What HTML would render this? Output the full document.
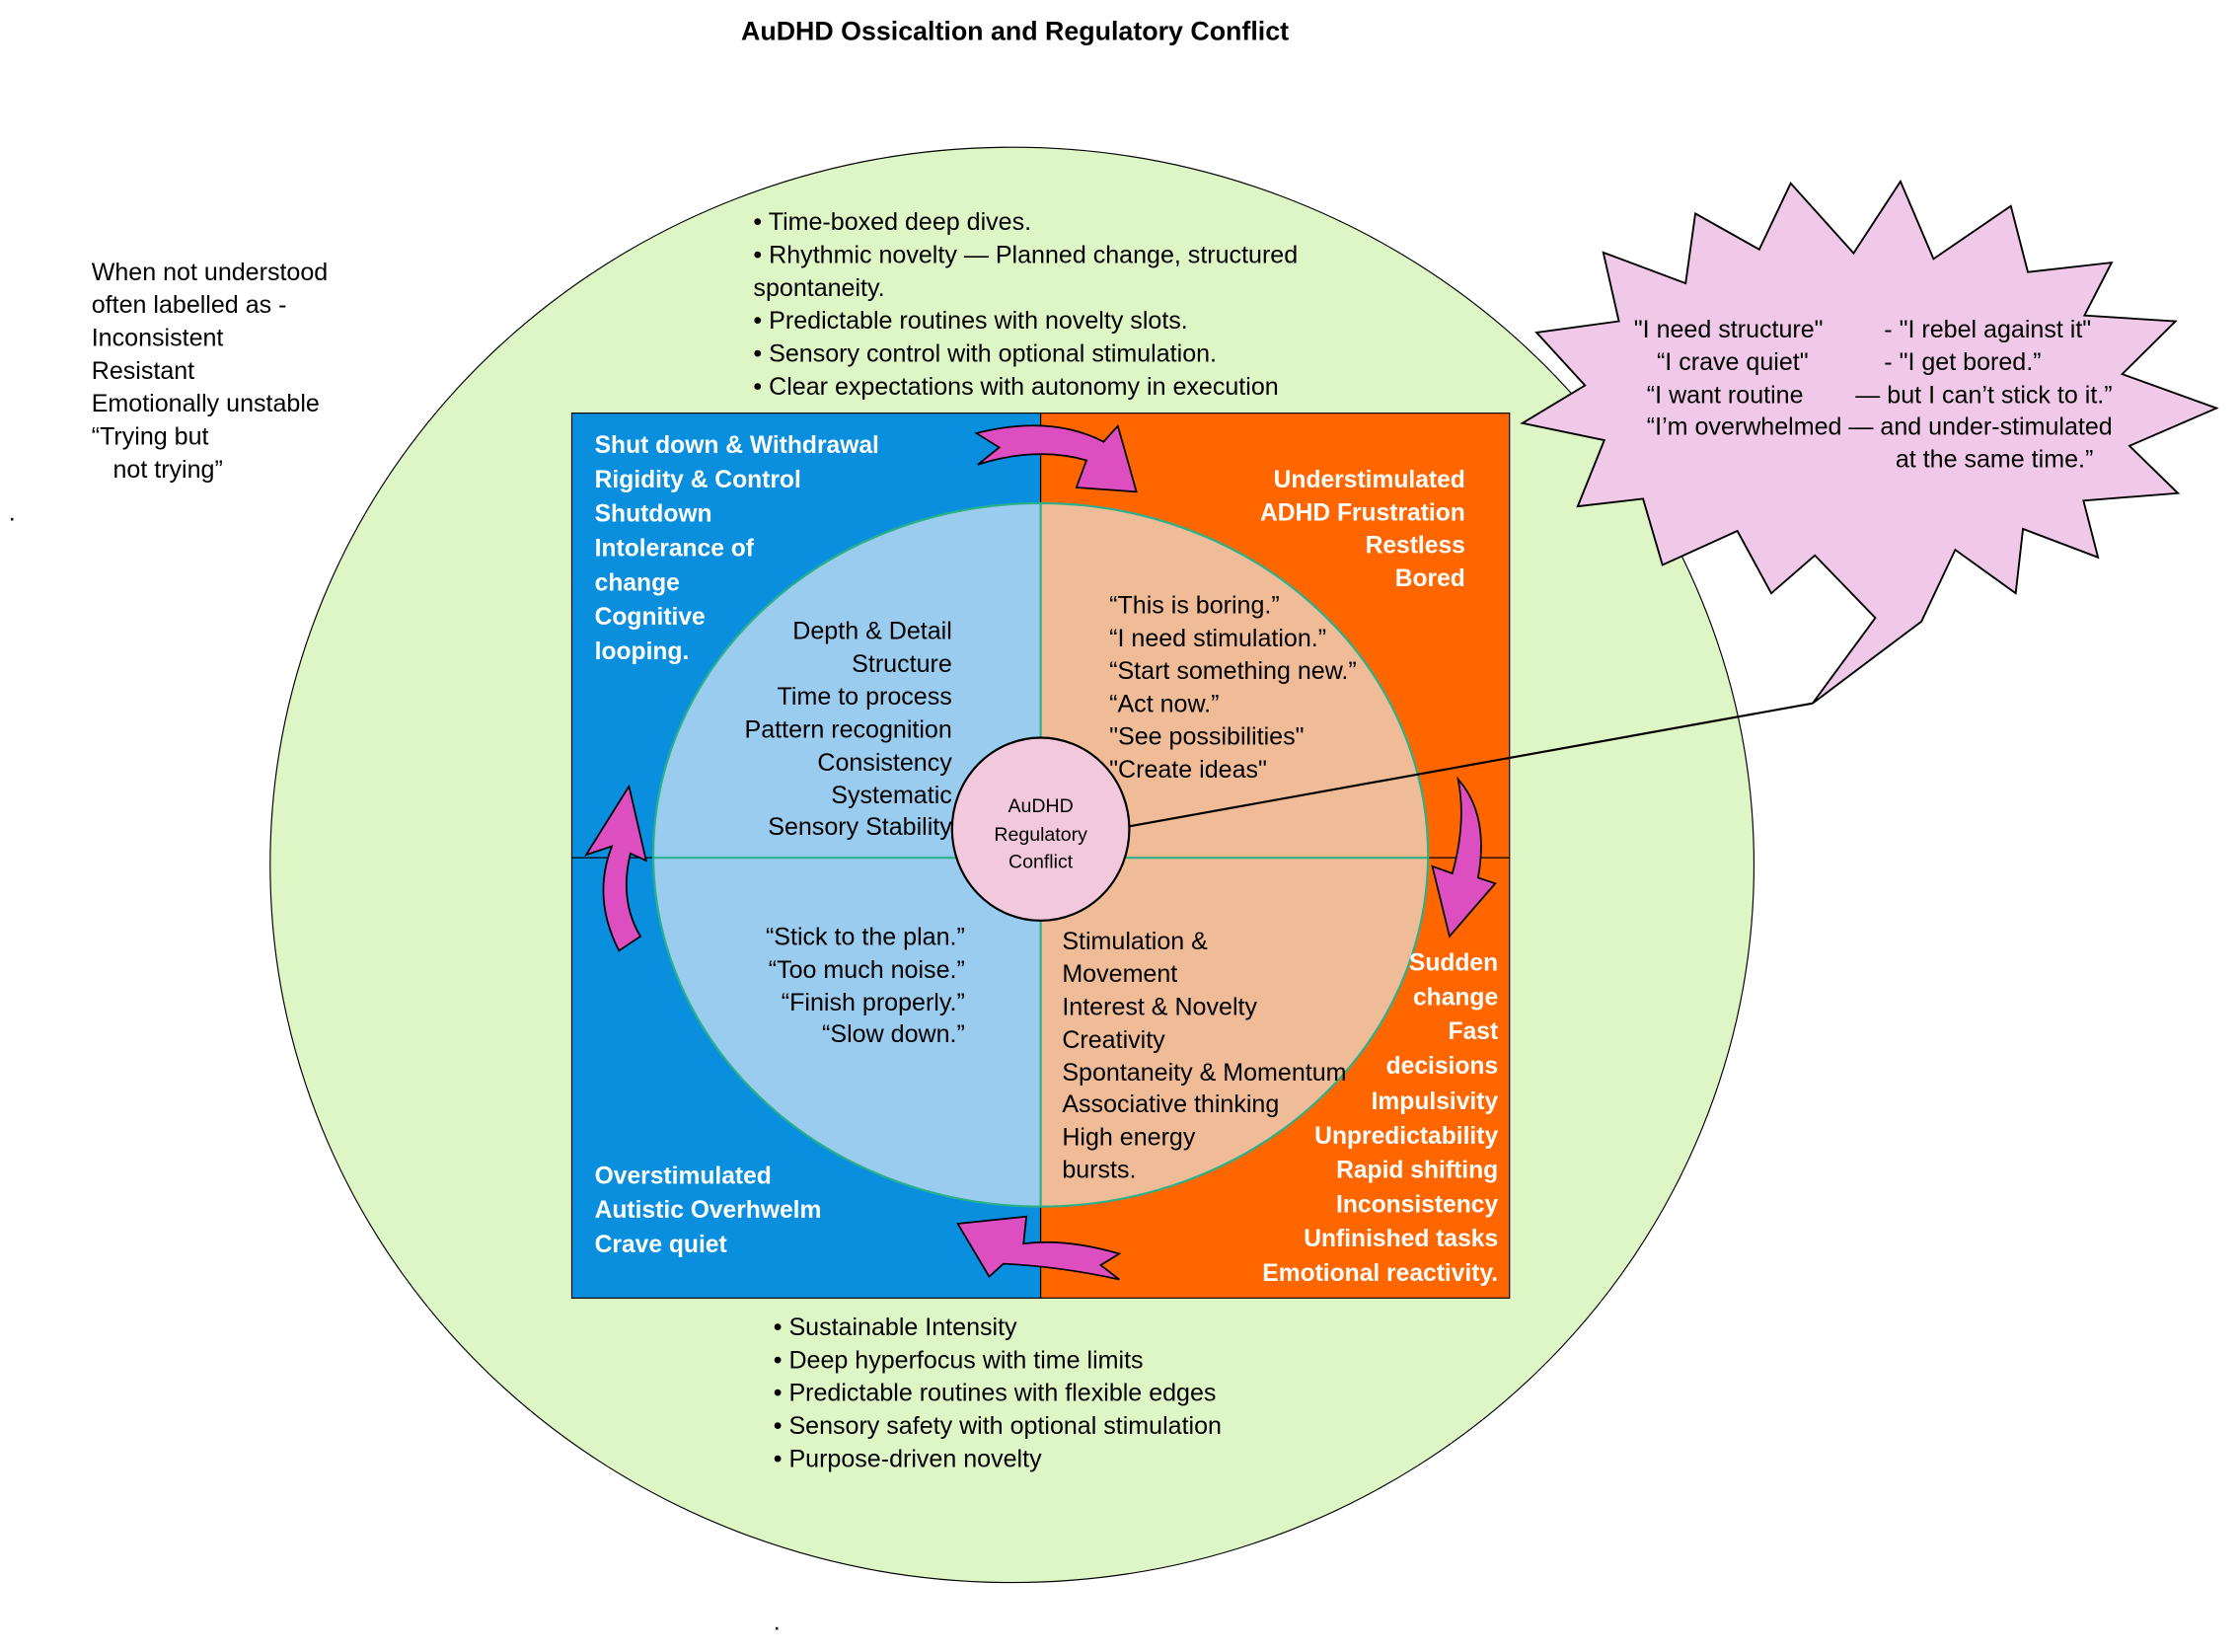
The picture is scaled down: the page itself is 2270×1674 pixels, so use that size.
<!DOCTYPE html>
<html><head><meta charset="utf-8"><style>
html,body{margin:0;padding:0;background:#fff;}
svg{display:block;}
text{font-family:"Liberation Sans",sans-serif;font-size:16px;fill:#000;}
.w text{fill:#fff;font-weight:bold;font-size:17px;}
.b text{font-size:17.3px;}
</style></head><body>
<svg width="2270" height="1674" viewBox="0 0 1567 1155.6" xmlns="http://www.w3.org/2000/svg">
<rect width="1567" height="1156" fill="#fff"/>
<text x="710" y="28" text-anchor="middle" style="font-weight:bold;font-size:18.5px">AuDHD Ossicaltion and Regulatory Conflict</text>
<ellipse cx="708" cy="605" rx="519" ry="502" fill="#def5c6" stroke="#000" stroke-width="0.8"/>
<rect x="400" y="289" width="328" height="311" fill="#0a8fdf" stroke="#000" stroke-width="0.8"/>
<rect x="400" y="600" width="328" height="308" fill="#0a8fdf" stroke="#000" stroke-width="0.8"/>
<rect x="728" y="289" width="328" height="311" fill="#ff6600" stroke="#000" stroke-width="0.8"/>
<rect x="728" y="600" width="328" height="308" fill="#ff6600" stroke="#000" stroke-width="0.8"/>
<path d="M728,598 L457,598 A271,246 0 0 1 728,352 Z" fill="#99ccee"/>
<path d="M728,598 L457,598 A271,246 0 0 0 728,844 Z" fill="#99ccee"/>
<path d="M728,598 L999,598 A271,246 0 0 0 728,352 Z" fill="#f0bc98"/>
<path d="M728,598 L999,598 A271,246 0 0 1 728,844 Z" fill="#f0bc98"/>
<ellipse cx="728" cy="598" rx="271" ry="246" fill="none" stroke="#2ab08a" stroke-width="1.5"/>
<line x1="457" y1="600" x2="999" y2="600" stroke="#2ab08a" stroke-width="1.5"/>
<line x1="728" y1="352" x2="728" y2="844" stroke="#2ab08a" stroke-width="1.5"/>
<line x1="790" y1="578" x2="1268" y2="492" stroke="#000" stroke-width="1.5"/>
<ellipse cx="728" cy="580" rx="62" ry="64" fill="#f2c8dc" stroke="#000" stroke-width="1.5"/>
<text x="728" y="568" text-anchor="middle" style="font-size:13.5px">AuDHD</text>
<text x="728" y="588" text-anchor="middle" style="font-size:13.5px">Regulatory</text>
<text x="728" y="607" text-anchor="middle" style="font-size:13.5px">Conflict</text>
<g fill="#dd4fc0" stroke="#000" stroke-width="1.2">
<path d="M683,303 L699,313 L684,325 Q725,312 760,322 L753,341 L795,344 L782,298 L772,309 Q735,290 683,303 Z"/>
<path d="M1020,545 Q1042,570 1034,614 L1046,618 L1014,655 L1002,606 L1016,611 Q1026,575 1020,545 Z"/>
<path d="M783,877 Q745,866 716,870 L718,851 L670,856 L692,893 L702,884 Q742,886 783,895 L770,885 Z"/>
<path d="M433,665 Q414,628 428,592 L410,598 L440,550 L452,602 L441,597 Q433,630 448,655 Z"/>
</g>
<polygon fill="#f0c8e8" stroke="#000" stroke-width="1.3" points="1252.7,128.2 1296.7,177.1 1329.5,126.9 1352.6,181.1 1406.7,144.1 1418.6,190.3 1477.2,183.7 1458.2,220.7 1521.9,224.7 1484.6,261.7 1550.6,285.5 1489.7,311.9 1523.6,345 1457.5,350.2 1467.7,389.9 1415.2,370 1410.1,415 1367.8,384.6 1344.1,434.8 1268,492 1311.9,432.2 1269.6,388.5 1239.1,415 1215.4,371.4 1163,395.2 1149.4,348.9 1103.7,354.2 1122.3,307.9 1065,296 1108.8,269.6 1074.9,232.6 1132.5,224.7 1121.6,176.6 1179.2,198.2 1186,149.4 1230.7,174.5"/>
<g class="b">
<text x="1143" y="236">"I need structure"</text><text x="1318" y="236">- "I rebel against it"</text>
<text x="1159" y="259">“I crave quiet"</text><text x="1318" y="259">- "I get bored.”</text>
<text x="1152" y="282">“I want routine</text><text x="1298" y="282">— but I can’t stick to it.”</text>
<text x="1152" y="304">“I’m overwhelmed — and under-stimulated</text>
<text x="1326" y="327">at the same time.”</text>
</g>
<g class="b">
<text x="64" y="196">When not understood</text>
<text x="64" y="219">often labelled as -</text>
<text x="64" y="242">Inconsistent</text>
<text x="64" y="265">Resistant</text>
<text x="64" y="288">Emotionally unstable</text>
<text x="64" y="311">“Trying but</text>
<text x="79" y="334">not trying”</text>
<text x="6" y="364">.</text>
<text x="541" y="1140">.</text>
</g>
<g class="b">
<text x="527" y="161">• Time-boxed deep dives.</text>
<text x="527" y="184">• Rhythmic novelty — Planned change, structured</text>
<text x="527" y="207">spontaneity.</text>
<text x="527" y="230">• Predictable routines with novelty slots.</text>
<text x="527" y="253">• Sensory control with optional stimulation.</text>
<text x="527" y="276">• Clear expectations with autonomy in execution</text>
</g>
<g class="b">
<text x="541" y="934">• Sustainable Intensity</text>
<text x="541" y="957">• Deep hyperfocus with time limits</text>
<text x="541" y="980">• Predictable routines with flexible edges</text>
<text x="541" y="1003">• Sensory safety with optional stimulation</text>
<text x="541" y="1026">• Purpose-driven novelty</text>
</g>
<g class="w">
<text x="416" y="317">Shut down &amp; Withdrawal</text>
<text x="416" y="341">Rigidity &amp; Control</text>
<text x="416" y="365">Shutdown</text>
<text x="416" y="389">Intolerance of</text>
<text x="416" y="413">change</text>
<text x="416" y="437">Cognitive</text>
<text x="416" y="461">looping.</text>
<text x="416" y="828">Overstimulated</text>
<text x="416" y="852">Autistic Overhwelm</text>
<text x="416" y="876">Crave quiet</text>
</g>
<g class="w" text-anchor="end">
<text x="1025" y="341">Understimulated</text>
<text x="1025" y="364">ADHD Frustration</text>
<text x="1025" y="387">Restless</text>
<text x="1025" y="410">Bored</text>
<text x="1048" y="679">Sudden</text>
<text x="1048" y="703">change</text>
<text x="1048" y="727">Fast</text>
<text x="1048" y="751">decisions</text>
<text x="1048" y="776">Impulsivity</text>
<text x="1048" y="800">Unpredictability</text>
<text x="1048" y="824">Rapid shifting</text>
<text x="1048" y="848">Inconsistency</text>
<text x="1048" y="872">Unfinished tasks</text>
<text x="1048" y="896">Emotional reactivity.</text>
</g>
<g class="b" text-anchor="end">
<text x="666" y="447">Depth &amp; Detail</text>
<text x="666" y="470">Structure</text>
<text x="666" y="493">Time to process</text>
<text x="666" y="516">Pattern recognition</text>
<text x="666" y="539">Consistency</text>
<text x="666" y="562">Systematic</text>
<text x="666" y="584">Sensory Stability</text>
<text x="675" y="661">“Stick to the plan.”</text>
<text x="675" y="684">“Too much noise.”</text>
<text x="675" y="707">“Finish properly.”</text>
<text x="675" y="729">“Slow down.”</text>
</g>
<g class="b">
<text x="776" y="429">“This is boring.”</text>
<text x="776" y="452">“I need stimulation.”</text>
<text x="776" y="475">“Start something new.”</text>
<text x="776" y="498">“Act now.”</text>
<text x="776" y="521">"See possibilities"</text>
<text x="776" y="544">"Create ideas"</text>
<text x="743" y="664">Stimulation &amp;</text>
<text x="743" y="687">Movement</text>
<text x="743" y="710">Interest &amp; Novelty</text>
<text x="743" y="733">Creativity</text>
<text x="743" y="756">Spontaneity &amp; Momentum</text>
<text x="743" y="778">Associative thinking</text>
<text x="743" y="801">High energy</text>
<text x="743" y="824">bursts.</text>
</g>
</svg>
</body></html>
